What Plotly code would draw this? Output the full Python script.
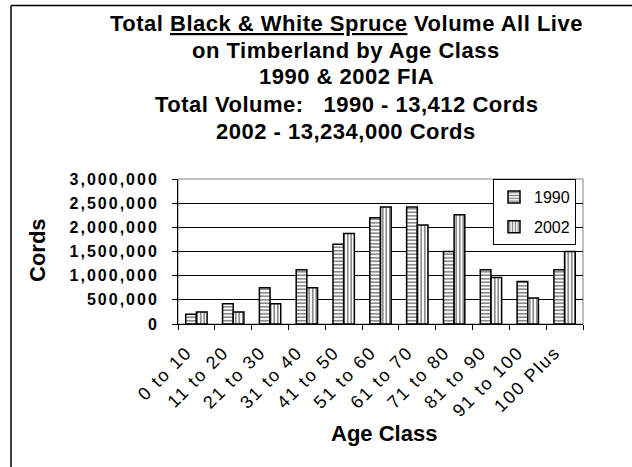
import plotly.graph_objects as go

# Age classes and volumes (cords) for the two inventories
age_classes = ["0 to 10", "11 to 20", "21 to 30", "31 to 40", "41 to 50", "51 to 60",
               "61 to 70", "71 to 80", "81 to 90", "91 to 100", "100 Plus"]
vol_1990 = [200000, 420000, 750000, 1120000, 1650000, 2200000,
            2420000, 1500000, 1120000, 880000, 1120000]
vol_2002 = [250000, 250000, 420000, 750000, 1870000, 2420000,
            2050000, 2260000, 960000, 540000, 1500000]
y_tick_vals = [0, 500000, 1000000, 1500000, 2000000, 2500000, 3000000]
y_tick_text = ["0", "500,000", "1,000,000", "1,500,000", "2,000,000", "2,500,000", "3,000,000"]

title_lines = [
    "<b>Total <u>Black & White Spruce</u> Volume All Live</b>",
    "<b>on Timberland by Age Class</b>",
    "<b>1990 & 2002 FIA</b>",
    "<b>Total Volume:\u00a0\u00a0\u00a01990 - 13,412 Cords</b>",
    "<b>2002 - 13,234,000 Cords</b>",
]

FONT = "Liberation Sans, Arial, sans-serif"
W, H = 632, 467
PL, PR, PT, PB = 178, 583, 179, 324  # plot area in pixels


def px(x, y):
    """Pixel position -> paper coordinates."""
    return (x - PL) / (PR - PL), (PB - y) / (PB - PT)


def spaced(t, s):
    return f'<span style="letter-spacing:{s}px">{t}</span>'


fig = go.Figure()
fig.add_bar(
    x=age_classes, y=vol_1990, name="1990",
    marker=dict(color="white", line=dict(color="black", width=1.5),
                pattern=dict(shape="-", fgcolor="black", bgcolor="white",
                             size=3.5, solidity=0.45)),
    legendgroup="a",
)
fig.add_bar(
    x=age_classes, y=vol_2002, name="2002",
    marker=dict(color="white", line=dict(color="black", width=1.5),
                pattern=dict(shape="|", fgcolor="black", bgcolor="white",
                             size=3.5, solidity=0.45)),
    legendgroup="b",
)

annotations = []
line_y = [23, 50, 77, 104, 131]
for txt, yy in zip(title_lines, line_y):
    ax, ay = px(346, yy)
    annotations.append(dict(text=spaced(txt, 0.5), x=ax, y=ay, xref="paper", yref="paper",
                            showarrow=False, xanchor="center", yanchor="middle",
                            font=dict(family=FONT, size=22, color="black")))
ax, ay = px(37, 250)
annotations.append(dict(text="<b>Cords</b>", x=ax, y=ay, xref="paper", yref="paper",
                        showarrow=False, textangle=-90, xanchor="center", yanchor="middle",
                        font=dict(family=FONT, size=22, color="black")))
ax, ay = px(384, 433)
annotations.append(dict(text="<b>Age Class</b>", x=ax, y=ay, xref="paper", yref="paper",
                        showarrow=False, xanchor="center", yanchor="middle",
                        font=dict(family=FONT, size=22, color="black")))

# outer frame (left and top edges) and plot-area border
fl, ft = px(11, 5.5)
fr, fb = px(W + 2, H + 2)
shapes = [
    dict(type="line", xref="paper", yref="paper", x0=fl, x1=fl, y0=ft, y1=fb,
         line=dict(color="black", width=1.5)),
    dict(type="line", xref="paper", yref="paper", x0=fl, x1=fr, y0=ft, y1=ft,
         line=dict(color="black", width=1.5)),
    dict(type="rect", xref="paper", yref="paper", x0=0, x1=1, y0=0, y1=1,
         line=dict(color="#808080", width=1), layer="below"),
]

# category labels end a little short of the tick so they sit left of centre
x_tick_text = [spaced(t + "\u00a0\u00a0", 1.8) for t in age_classes]

lx, ly = px(493, 179)
fig.update_layout(
    width=W, height=H,
    margin=dict(l=PL, r=W - PR, t=PT, b=H - PB, autoexpand=False),
    paper_bgcolor="white", plot_bgcolor="white",
    barmode="group", bargap=0.42, bargroupgap=0,
    font=dict(family=FONT, color="black"),
    annotations=annotations, shapes=shapes,
    legend=dict(x=lx, y=ly, xanchor="left", yanchor="top",
                bgcolor="white", bordercolor="black", borderwidth=1,
                font=dict(family=FONT, size=16, color="black"),
                traceorder="grouped", tracegroupgap=6, itemwidth=30),
    xaxis=dict(type="category", showline=True, linecolor="black", linewidth=1,
               ticks="outside", ticklen=5, tickcolor="black", tickson="boundaries",
               tickangle=-45, tickfont=dict(family=FONT, size=18, color="black"),
               tickvals=age_classes, ticktext=x_tick_text,
               ticklabelstandoff=0, showgrid=False, fixedrange=True),
    yaxis=dict(range=[0, 3000000], showline=True, linecolor="black", linewidth=1,
               ticks="outside", ticklen=5, tickcolor="black",
               tickvals=y_tick_vals, ticktext=[spaced(f"<b>{t}</b>", 2) for t in y_tick_text],
               tickfont=dict(family=FONT, size=16, color="black"),
               showgrid=True, gridcolor="black", gridwidth=1, zeroline=False,
               ticklabelstandoff=10, fixedrange=True),
)

fig.write_html("out.html")
